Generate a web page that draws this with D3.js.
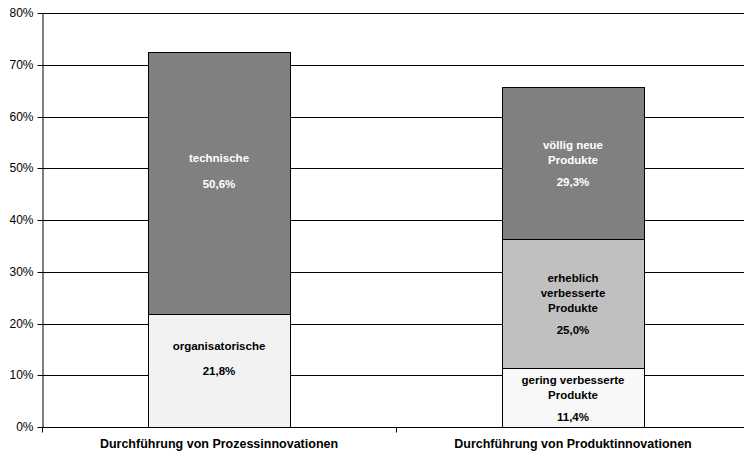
<!DOCTYPE html>
<html><head><meta charset="utf-8">
<script src="https://cdn.jsdelivr.net/npm/d3@7"></script>
<style>body{margin:0;background:#fff}svg{display:block}</style>
</head><body>
<script>
// ---- data ----
const categories = ["Durchführung von Prozessinnovationen", "Durchführung von Produktinnovationen"];
// segments bottom-to-top per category
const processLabels = ["organisatorische", "technische"];
const processValues = [21.8, 50.6];
const productLabels = ["gering verbesserte\nProdukte", "erheblich\nverbesserte\nProdukte", "völlig neue\nProdukte"];
const productValues = [11.4, 25.0, 29.3];
const yTicks = [0, 10, 20, 30, 40, 50, 60, 70, 80];

// ---- styles ----
const W = 744, H = 456;
const M = {left: 42, top: 13, bottom: 427, right: 750};
const processFills = ["#f2f2f2", "#808080"];
const productFills = ["#f8f8f8", "#c0c0c0", "#808080"];
const font = "'Liberation Sans', Arial, Helvetica, sans-serif";

const svg = d3.select("body").append("svg").attr("width", W).attr("height", H);

const y = d3.scaleLinear().domain([0, 80]).range([M.bottom, M.top]);
const x = d3.scaleBand().domain(categories).range([M.left, M.right]).paddingInner(0.6).paddingOuter(0.3);
const step = x.step();

// gridlines
svg.append("g").selectAll("line").data(yTicks.filter(d => d > 0)).join("line")
  .attr("x1", M.left).attr("x2", M.right)
  .attr("y1", d => Math.round(y(d)) + 0.5).attr("y2", d => Math.round(y(d)) + 0.5)
  .attr("stroke", "#000").attr("stroke-width", 1);

// y axis
const yAxis = d3.axisLeft(y).tickValues(yTicks).tickFormat(d => d + "%").tickSize(5).tickSizeOuter(0);
const gy = svg.append("g").attr("transform", `translate(${M.left + 0.5},0.5)`).call(yAxis);
gy.selectAll("path,line").attr("stroke", "#000");
gy.selectAll("text").attr("font-family", font).attr("font-size", "12px").attr("fill", "#000").attr("x", -9);
gy.selectAll(".tick").attr("transform", d => `translate(0,${Math.round(y(d))})`);

// stacks
const stacks = [
  {cat: categories[0], labels: processLabels, values: processValues, fills: processFills, mode: "pct"},
  {cat: categories[1], labels: productLabels, values: productValues, fills: productFills, mode: "block"}
];
const segs = [];
stacks.forEach(s => {
  let acc = 0;
  s.values.forEach((v, i) => {
    segs.push({cat: s.cat, y0: acc, y1: acc + v, v, label: s.labels[i], fill: s.fills[i], mode: s.mode});
    acc += v;
  });
});

svg.append("g").selectAll("rect").data(segs).join("rect")
  .attr("x", d => Math.round(x(d.cat)) + 0.5)
  .attr("width", Math.round(x.bandwidth()))
  .attr("y", d => Math.round(y(d.y1)) + 0.5)
  .attr("height", d => Math.round(y(d.y0)) - Math.round(y(d.y1)))
  .attr("fill", d => d.fill).attr("stroke", "#000").attr("stroke-width", 1);

// labels
const lh = 15, gap = 22;
segs.forEach(d => {
  const cx = x(d.cat) + x.bandwidth() / 2;
  const cy = (y(d.y0) + y(d.y1)) / 2;
  const lines = d.label.split("\n");
  const col = d.fill === "#808080" ? "#fff" : "#000";
  let pctY;
  if (d.mode === "pct") {
    pctY = cy + 0.5;
  } else {
    const blockH = (lines.length - 1) * lh + gap;
    pctY = cy + blockH / 2 + 0.5;
  }
  const firstY = d.mode === "pct" ? pctY - 25.5 - (lines.length - 1) * lh : pctY - gap - (lines.length - 1) * lh;
  const g = svg.append("g").attr("font-family", font).attr("font-weight", "bold")
    .attr("font-size", "11.5px").attr("fill", col).attr("text-anchor", "middle");
  lines.forEach((t, i) => {
    g.append("text").attr("x", cx).attr("y", firstY + i * lh).attr("dy", "0.35em").text(t);
  });
  g.append("text").attr("x", cx).attr("y", pctY).attr("dy", "0.35em").text(d.v.toFixed(1).replace(".", ",") + "%");
});

// x axis
const bottom = Math.round(y(0)) + 0.5;
svg.append("line").attr("x1", M.left).attr("x2", M.right).attr("y1", bottom).attr("y2", bottom).attr("stroke", "#000");
const bounds = [M.left, M.left + step, M.left + 2 * step];
svg.append("g").selectAll("line").data(bounds).join("line")
  .attr("x1", d => Math.round(d) + 0.5).attr("x2", d => Math.round(d) + 0.5)
  .attr("y1", bottom).attr("y2", bottom + 5).attr("stroke", "#000");
svg.append("g").selectAll("text").data(categories).join("text")
  .attr("x", d => x(d) + x.bandwidth() / 2).attr("y", 444).attr("dy", "0.35em")
  .attr("text-anchor", "middle").attr("font-family", font).attr("font-weight", "bold")
  .attr("font-size", "12.5px").attr("fill", "#000").text(d => d);
</script>
</body></html>
